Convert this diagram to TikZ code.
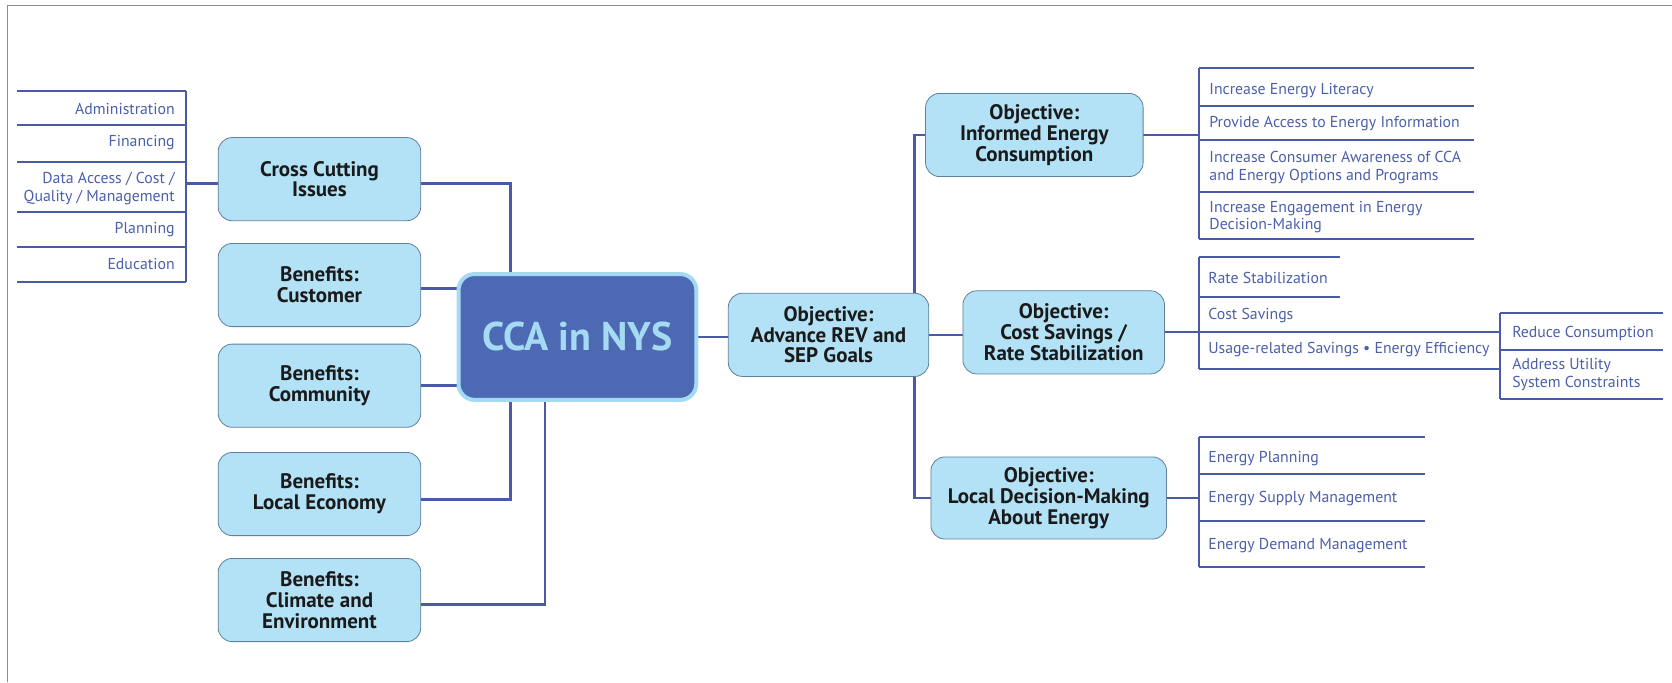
\documentclass[tikz,border=0pt]{standalone}
\usepackage{fontspec}
\setmainfont{PT Sans}
\usetikzlibrary{backgrounds,calc}
\newdimen\pxu \pxu=1.0663pt
\definecolor{boxfill}{HTML}{B3E2F7}
\definecolor{boxline}{HTML}{5F7F9F}
\definecolor{ccafill}{HTML}{4E69B3}
\definecolor{ccaline}{HTML}{A5DAF3}
\definecolor{conn}{HTML}{4A5AA8}
\definecolor{listtxt}{HTML}{4B5FAA}
\definecolor{framegray}{HTML}{8C8C8C}
\definecolor{boxtxt}{HTML}{1A1A1A}
\begin{document}
\begin{tikzpicture}[x=1.0663pt,y=-1.0663pt,
  box/.style={draw=boxline, line width=0.8pt, fill=boxfill, rounded corners=14pt,
    align=center, inner sep=0pt, text=boxtxt,
    font=\bfseries\fontsize{21}{20.8}\selectfont},
  ccabox/.style={draw=ccaline, line width=4pt, fill=ccafill, rounded corners=16pt,
    align=center, inner sep=0pt, text=ccaline,
    font=\bfseries\fontsize{40}{42}\selectfont},
  wire/.style={draw=conn, line width=2.6pt},
  rule/.style={draw=conn, line width=2pt},
  item/.style={text=listtxt, inner sep=0pt, font=\fontsize{15.8}{17.7}\selectfont},
  litem/.style={item, anchor=east, align=right},
  ritem/.style={item, anchor=west, align=left},
]
\useasboundingbox (0,0) rectangle (1568,640);
\draw[framegray, line width=1pt] (6.6,640) -- (6.6,5.6) -- (1568,5.6);

% ---------- boxes ----------
\node[box, minimum width=190\pxu, minimum height=78\pxu] (cross) at (299.6,168) {Cross Cutting\\Issues};
\node[box, minimum width=190\pxu, minimum height=78\pxu] (customer) at (299.6,267.3) {Benefits:\\Customer};
\node[box, minimum width=190\pxu, minimum height=78\pxu] (community) at (299.6,361.7) {Benefits:\\Community};
\node[box, minimum width=190\pxu, minimum height=78\pxu] (economy) at (299.6,463.3) {Benefits:\\Local Economy};
\node[box, minimum width=190\pxu, minimum height=78\pxu] (climate) at (299.6,562.7) {Benefits:\\Climate and\\Environment};

\node[ccabox, minimum width=223\pxu, minimum height=118\pxu] (cca) at (541.5,316) {CCA in NYS};

\node[box, minimum width=188\pxu, minimum height=78\pxu] (advance) at (777,314) {Objective:\\Advance REV and\\SEP Goals};
\node[box, minimum width=204\pxu, minimum height=78\pxu] (informed) at (970,126.6) {Objective:\\Informed Energy\\Consumption};
\node[box, minimum width=189\pxu, minimum height=78\pxu] (cost) at (997.5,311.7) {Objective:\\Cost Savings /\\Rate Stabilization};
\node[box, minimum width=221\pxu, minimum height=77\pxu] (local) at (983.5,467) {Objective:\\Local Decision-Making\\About Energy};

% ---------- list spines ----------
\coordinate (LL) at (174.8,85);
\coordinate (R1) at (1124.5,64.1);
\coordinate (R2) at (1124.5,241.3);
\coordinate (R3) at (1407,293.9);
\coordinate (R4) at (1124.5,409.5);
\coordinate (CT1) at (479,300);
\coordinate (CB1) at (479,340);
\coordinate (CB2) at (511,340);
\coordinate (SP) at (857.5,314);

% ---------- left list ----------
\foreach \yy in {85,117.2,152.2,199.1,232,264.2}
  \draw[rule] (16,\yy) -- (174.8,\yy);
\draw[rule] (LL) -- (174.8,264.2);
\node[litem] (adm) at (164,102.5) {Administration};
\node[litem] (fin) at (164,133.8) {Financing};
\node[litem] (dat) at (164,177) {Data Access / Cost /\\Quality / Management};
\node[litem] (pla) at (164,215.7) {Planning};
\node[litem] (edu) at (164,247.9) {Education};

% ---------- right list 1 ----------
\foreach \yy in {64.1,99.1,131.3,180.4,224.5}
  \draw[rule] (1124.5,\yy) -- (1382,\yy);
\draw[rule] (R1) -- (1124.5,224.5);
\node[ritem] (r11) at (1134,85) {Increase Energy Literacy};
\node[ritem] (r12) at (1134,115.7) {Provide Access to Energy Information};
\node[ritem] (r13) at (1134,157.4) {Increase Consumer Awareness of CCA\\and Energy Options and Programs};
\node[ritem] (r14) at (1134,203.5) {Increase Engagement in Energy\\Decision-Making};

% ---------- right list 2 ----------
\foreach \yy in {241.3,278.2}
  \draw[rule] (1124.5,\yy) -- (1257,\yy);
\draw[rule] (1124.5,346.4) -- (1407,346.4);
\draw[rule] (R2) -- (1124.5,346.4);
\node[ritem] (r21) at (1133,261) {Rate Stabilization};
\node[ritem] (r22) at (1133,295.5) {Cost Savings};
\node[ritem] (r23) at (1133,327.5) {Usage-related Savings • Energy Efficiency};

% ---------- right list 3 ----------
\foreach \yy in {293.9,328.2,374.5}
  \draw[rule] (1407,\yy) -- (1560,\yy);
\draw[rule] (R3) -- (1407,374.5);
\node[ritem] (r31) at (1418,312.6) {Reduce Consumption};
\node[ritem] (r32) at (1418,351) {Address Utility\\System Constraints};

% ---------- right list 4 ----------
\foreach \yy in {409.5,444.5,488.3,531.4}
  \draw[rule] (1124.5,\yy) -- (1336,\yy);
\draw[rule] (R4) -- (1124.5,531.4);
\node[ritem] (r41) at (1133,430.5) {Energy Planning};
\node[ritem] (r42) at (1133,468) {Energy Supply Management};
\node[ritem] (r43) at (1133,512) {Energy Demand Management};

% ---------- connectors ----------
\begin{scope}[on background layer]
  \path ($(cross.west)+(0,4)$) coordinate (crw) ($(cross.east)+(0,4)$) coordinate (cre);
  \path ($(customer.east)+(0,3)$) coordinate (cue);
  \path ($(economy.east)+(0,5)$) coordinate (ece);
  \path ($(climate.east)+(0,4)$) coordinate (cle);
  \draw[wire] (crw) -- (crw -| LL);
  \draw[wire] (cre) -| (CT1);
  \draw[wire] (cue) -- (cue -| cca.center);
  \draw[wire] (community.east) -- (community.east -| cca.center);
  \draw[wire] (ece) -| (CB1);
  \draw[wire] (cle) -| (CB2);
  \draw[wire] (cca.center) -- (cca.center -| advance.center);
  \draw[wire] (informed.west) -| (SP);
  \draw[wire] (local.west) -| (SP);
  \draw[wire] (advance.center) -- (advance.center -| cost.center);
  \draw[wire] (informed.center) -- (informed.center -| R1);
  \draw[rule] (cost.center) -- (cost.center -| R3);
  \draw[wire] (local.center) -- (local.center -| R4);
\end{scope}
\end{tikzpicture}
\end{document}
